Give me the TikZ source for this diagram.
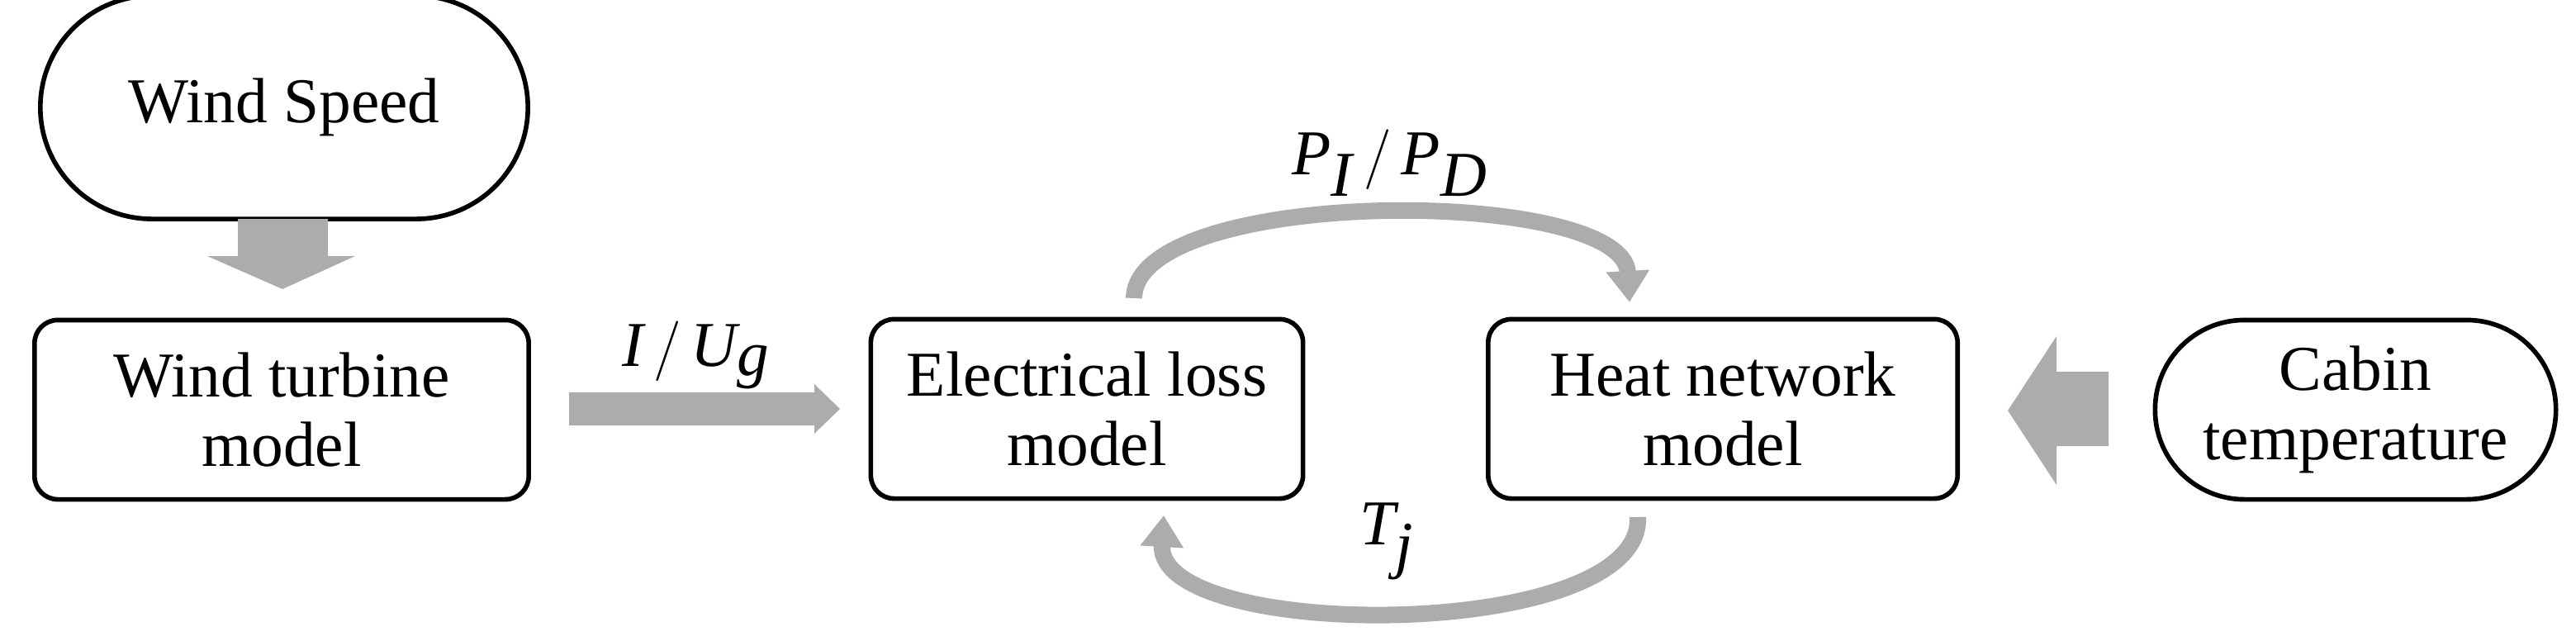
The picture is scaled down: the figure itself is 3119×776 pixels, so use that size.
\documentclass[tikz,border=0pt]{standalone}
\usepackage{fontspec}
\setmainfont{Liberation Serif}
\usetikzlibrary{arrows.meta}

\begin{document}
\begin{tikzpicture}[
			x=0.01cm, y=-0.01cm,
			base/.style={draw, line width=1.6pt, align=center, minimum height=2.17cm, font=\fontsize{22}{24}\selectfont},
			block/.style={base, rounded corners=8pt},
			terminal/.style={base, rounded corners=1.08cm},
			flow/.style={fill=gray!65, draw=none},
			loop/.style={draw=gray!65, line width=0.2cm, -{Triangle[width=0.5cm,length=0.38cm]}},
			label/.style={font=\fontsize{22}{24}\selectfont},
			]

			\useasboundingbox (0,0) rectangle (3119,776);

			\node [terminal, minimum width=5.9cm, minimum height=2.7cm, rounded corners=1.35cm] (speed) at (344,130) {Wind Speed};
			\node [block, minimum width=5.98cm] (turbine) at (341,496) {Wind turbine\\model};
			\node [block, minimum width=5.23cm] (loss)    at (1316,495) {Electrical loss\\model};
			\node [block, minimum width=5.68cm] (heat)    at (2086,495) {Heat network\\model};
			\node [terminal, minimum width=4.85cm] (cabin) at (2852,496) {Cabin\\temperature};

			% block arrows
			\fill [flow] (288,265) -- (397,265) -- (397,310) -- (430,310) -- (342,350) -- (251,310) -- (288,310) -- cycle;
			\fill [flow] (689,475) -- (986,475) -- (986,465) -- (1017,495) -- (986,525) -- (986,515) -- (689,515) -- cycle;
			\fill [flow] (2553,450) -- (2490,450) -- (2490,407) -- (2431,497) -- (2490,587) -- (2490,540) -- (2553,540) -- cycle;

			% feedback loop
			\coordinate (pout) at (1373,361);
			\coordinate (pin)  at (1973,366);
			\coordinate (tout) at (1983,626);
			\coordinate (tin)  at (1409,624);
			\draw [loop] (pout) .. controls (1375,225) and (1965,225) .. (pin);
			\draw [loop] (tout) .. controls (1990,778) and (1400,778) .. (tin);

			\node [label] (pd) at (1683,197) {$\textit{P}_{\textit{I}}\,/\,\textit{P}_{\textit{D}}$};
			\node [label] (ug) at (843,430) {$\textit{I}\,/\,\textit{U}_{\textit{g}}$};
			\node [label] (tj) at (1680,655) {$\textit{T}_{\textit{j}}$};

		\end{tikzpicture}
\end{document}
